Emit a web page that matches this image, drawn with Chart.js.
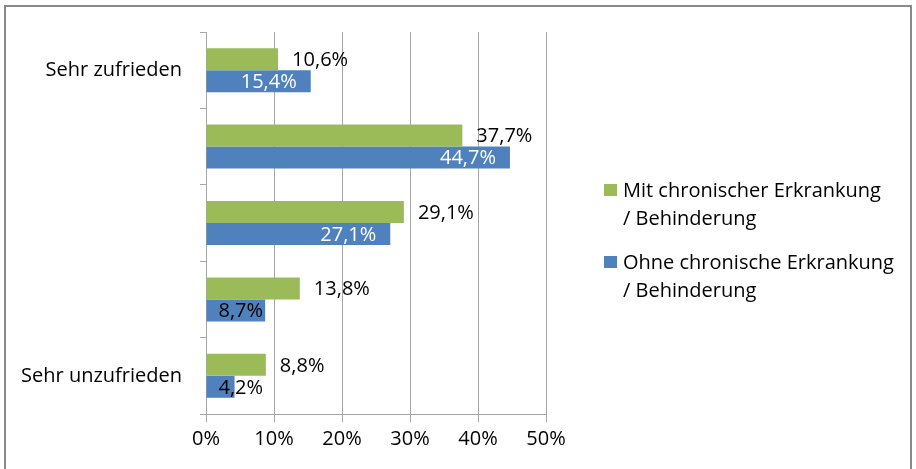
<!DOCTYPE html>
<html>
<head>
<meta charset="utf-8">
<script src="https://cdn.jsdelivr.net/npm/chart.js@4"></script>
<style>
  body { margin: 0; background: #fff; }
  #wrap { position: relative; width: 916px; height: 469px; }
  #frame { position: absolute; left: 4px; top: 5px; width: 908px; height: 470px; border: 2px solid #8a8a8a; box-sizing: border-box; }
  #chart { position: absolute; left: 0; top: 0; }
</style>
</head>
<body>
<div id="wrap">
  <div id="frame"></div>
  <canvas id="chart" width="916" height="469"></canvas>
</div>
<script>
// Data
const categories = ["Sehr zufrieden", "", "", "", "Sehr unzufrieden"];
const mitValues = [10.6, 37.7, 29.1, 13.8, 8.8];
const ohneValues = [15.4, 44.7, 27.1, 8.7, 4.2];
const seriesNames = [["Mit chronischer Erkrankung", "/ Behinderung"], ["Ohne chronische Erkrankung", "/ Behinderung"]];
const xTicks = [0, 10, 20, 30, 40, 50];

const GREEN = "#9BBB59";
const BLUE = "#4F81BD";
const GRID = "#A6A6A6";
const FONT = "'Open Sans', sans-serif";
const SIZE = 20;

Chart.defaults.font.family = FONT;
Chart.defaults.color = "#000";

function fmt(v) {
    return v.toFixed(1).replace(".", ",") + "%";
}

// value labels next to / inside the bars
const barLabels = {
    id: "barLabels",
    afterDatasetsDraw(chart) {
        const ctx = chart.ctx;
        ctx.save();
        ctx.font = SIZE + "px " + FONT;
        ctx.textBaseline = "middle";
        ctx.textAlign = "left";
        chart.data.datasets.forEach((ds, i) => {
            const meta = chart.getDatasetMeta(i);
            meta.data.forEach((bar, j) => {
                const text = fmt(ds.data[j]);
                const w = ctx.measureText(text).width;
                if (i === 0) {
                    ctx.fillStyle = "#000";
                    ctx.fillText(text, bar.x + 14, bar.y + 1);
                } else {
                    let x = bar.x - 14 - w;
                    if (x < bar.base + 12) {
                        x = bar.base + 12;
                        ctx.fillStyle = "#000";
                    } else {
                        ctx.fillStyle = "#fff";
                    }
                    ctx.fillText(text, x, bar.y + 1);
                }
            });
        });
        ctx.restore();
    }
};

// legend on the right with two-line entries
const sideLegend = {
    id: "sideLegend",
    afterDraw(chart) {
        const ctx = chart.ctx;
        const area = chart.chartArea;
        const x0 = area.right + 58;
        const tops = [184, 256];
        ctx.save();
        ctx.font = SIZE + "px " + FONT;
        ctx.textBaseline = "middle";
        ctx.textAlign = "left";
        chart.data.datasets.forEach((ds, i) => {
            ctx.fillStyle = ds.backgroundColor;
            ctx.fillRect(x0, tops[i], 13, 12);
            ctx.fillStyle = "#000";
            seriesNames[i].forEach((line, k) => {
                ctx.fillText(line, x0 + 19, tops[i] + 7 + k * 28);
            });
        });
        ctx.restore();
    }
};

new Chart(document.getElementById("chart"), {
    type: "bar",
    data: {
        labels: categories,
        datasets: [
            { label: seriesNames[0].join(" "), data: mitValues, backgroundColor: GREEN },
            { label: seriesNames[1].join(" "), data: ohneValues, backgroundColor: BLUE }
        ]
    },
    options: {
        indexAxis: "y",
        responsive: false,
        animation: false,
        categoryPercentage: 0.576,
        barPercentage: 1,
        layout: { padding: { top: 32, right: 370, left: 0, bottom: 0 } },
        plugins: {
            legend: { display: false },
            tooltip: { enabled: false }
        },
        scales: {
            x: {
                min: 0,
                max: 50,
                afterFit: s => { s.height = 55; },
                afterBuildTicks: s => { s.ticks = xTicks.map(v => ({ value: v })); },
                ticks: {
                    font: { size: SIZE },
                    color: "#000",
                    padding: 5,
                    callback: v => v + "%"
                },
                grid: { color: GRID, tickLength: 8, lineWidth: 1 },
                border: { color: GRID }
            },
            y: {
                afterFit: s => { s.width = 206; },
                ticks: { font: { size: SIZE }, color: "#000", padding: 18 },
                grid: { drawOnChartArea: false, color: GRID, tickLength: 6, offset: true },
                border: { color: GRID }
            }
        }
    },
    plugins: [barLabels, sideLegend]
});
</script>
</body>
</html>
